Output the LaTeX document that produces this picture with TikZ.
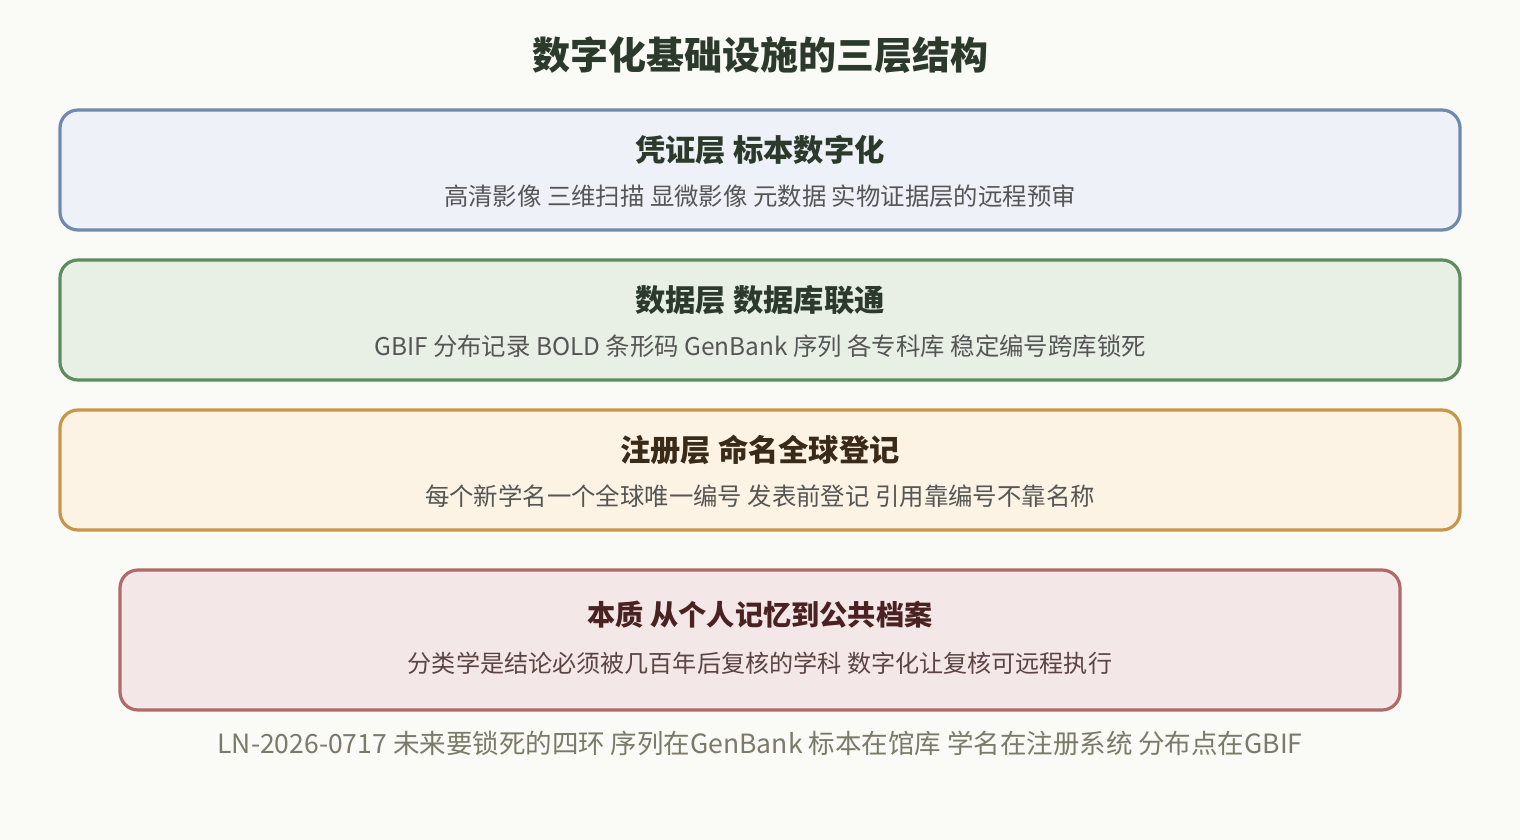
\documentclass[tikz,border=0pt]{standalone}
\usepackage{fontspec}
\setmainfont{Noto Sans CJK SC}
\newfontfamily\cjk{Noto Sans CJK SC}
\definecolor{bg}{HTML}{FAFAF6}
\definecolor{titlec}{HTML}{2B3A2B}
\definecolor{bdA}{HTML}{6E8AB0}\definecolor{fA}{HTML}{EEF2F8}
\definecolor{bdB}{HTML}{5E8C5E}\definecolor{fB}{HTML}{E8F0E6}
\definecolor{bdC}{HTML}{C9954A}\definecolor{fC}{HTML}{FDF3E4}
\definecolor{bdD}{HTML}{B06A6A}\definecolor{fD}{HTML}{F4E7E7}
\definecolor{subc}{HTML}{555555}
\definecolor{headC}{HTML}{3A2A18}
\definecolor{headD}{HTML}{4A2222}
\definecolor{subD}{HTML}{5A4444}
\definecolor{footc}{HTML}{7A7A68}
\begin{document}
\begin{tikzpicture}[x=1pt,y=-1pt,
  layer/.style={draw, line width=3.2pt, rounded corners=18pt},
  head/.style={font=\cjk\bfseries\fontsize{30.3}{36}\selectfont, inner sep=0pt, anchor=center},
  sub/.style={font=\cjk\fontsize{24.4}{29}\selectfont, text=subc, inner sep=0pt, anchor=center}]
\useasboundingbox (0,0) rectangle (1520,840);
\fill[bg] (0,0) rectangle (1520,840);
\node[font=\cjk\bfseries\fontsize{38}{45}\selectfont, text=titlec, inner sep=0pt] (title) at (760,55) {数字化基础设施的三层结构};
\draw[layer, draw=bdA, fill=fA] (60,110) rectangle (1460,230);
\node[head, text=titlec] (h1) at (760,150) {凭证层 标本数字化};
\node[sub] (s1) at (760,196) {高清影像 三维扫描 显微影像 元数据 实物证据层的远程预审};
\draw[layer, draw=bdB, fill=fB] (60,260) rectangle (1460,380);
\node[head, text=titlec] (h2) at (760,300) {数据层 数据库联通};
\node[sub] (s2) at (760,346) {GBIF 分布记录 BOLD 条形码 GenBank 序列 各专科库 稳定编号跨库锁死};
\draw[layer, draw=bdC, fill=fC] (60,410) rectangle (1460,530);
\node[head, text=headC] (h3) at (760,450) {注册层 命名全球登记};
\node[sub] (s3) at (760,496) {每个新学名一个全球唯一编号 发表前登记 引用靠编号不靠名称};
\draw[layer, draw=bdD, fill=fD] (120,570) rectangle (1400,710);
\node[head, text=headD, font=\cjk\bfseries\fontsize{28.2}{33}\selectfont] (h4) at (760,615) {本质 从个人记忆到公共档案};
\node[sub, text=subD, font=\cjk\fontsize{24.1}{29}\selectfont] (s4) at (760,663) {分类学是结论必须被几百年后复核的学科 数字化让复核可远程执行};
\node[font=\cjk\fontsize{26.5}{31}\selectfont, text=footc, inner sep=0pt] (foot) at (760,743) {LN-2026-0717 未来要锁死的四环 序列在GenBank 标本在馆库 学名在注册系统 分布点在GBIF};
\end{tikzpicture}
\end{document}
